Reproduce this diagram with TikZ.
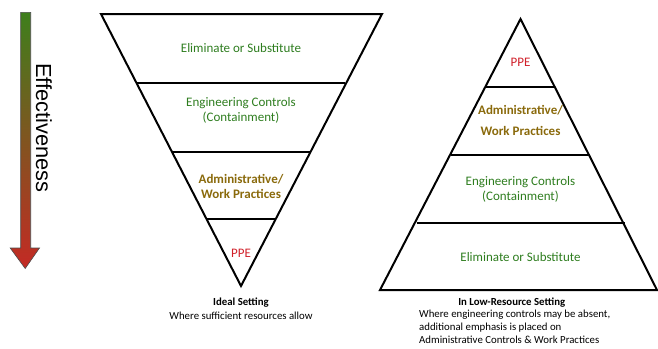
\documentclass[tikz,border=0pt]{standalone}
\usepackage{fontspec}
\setmainfont{Carlito}
\newfontfamily\arialfont{Liberation Sans}
\definecolor{tgreen}{HTML}{2E7D1F}
\definecolor{tgold}{HTML}{8A6A0C}
\definecolor{tred}{HTML}{D0202A}
\definecolor{agreen}{HTML}{3E7F1C}
\definecolor{ared}{HTML}{C42A24}
\begin{document}
\begin{tikzpicture}[x=1pt,y=-1pt,
  tri/.style={draw=black,line width=2pt,line join=miter},
  sep/.style={draw=black,line width=2pt},
  lab/.style={font=\fontsize{13}{15}\selectfont,align=center,inner sep=0pt},
  glab/.style={lab,text=tgreen},
  olab/.style={lab,text=tgold,font=\fontsize{13}{15}\selectfont\bfseries},
  rlab/.style={lab,text=tred},
  captxt/.style={font=\fontsize{10.8}{13}\selectfont,inner sep=0pt}]
\useasboundingbox (0,0) rectangle (658,348);
% effectiveness arrow
\shade[top color=agreen,bottom color=ared,draw=black!70,line width=0.6pt]
  (20.7,12.3) -- (30.7,12.3) -- (30.7,248) -- (39.5,248) -- (25.2,268.5) -- (10.2,248) -- (20.7,248) -- cycle;
\node[rotate=-90,font=\arialfont\fontsize{21.8}{24}\selectfont,inner sep=0pt] (eff) at (44,128) {Effectiveness};
% inverted triangle (ideal)
\draw[tri] (101,14) -- (382,14) -- (241,286) -- cycle;
\draw[sep] (136.7,83) -- (345.3,83);
\draw[sep] (172.5,152) -- (309.5,152);
\draw[sep] (207,219) -- (275,219);
\node[glab] (l1) at (241,48) {Eliminate or Substitute};
\node[glab] (l2) at (241,110.5) {Engineering Controls\\(Containment)};
\node[olab] (l3) at (241,186) {Administrative/\\Work Practices};
\node[rlab] (l4) at (241,253) {PPE};
\node[captxt,font=\fontsize{10.8}{13}\selectfont\bfseries] (c1) at (241,303) {Ideal Setting};
\node[captxt] (c2) at (241,315.5) {Where sufficient resources allow};
% pyramid (low resource)
\draw[tri] (380,290) -- (657,290) -- (520.5,19) -- cycle;
\draw[sep] (486,86.7) -- (555,86.7);
\draw[sep] (451,155) -- (590,155);
\draw[sep] (416.5,222.7) -- (624.5,222.7);
\node[rlab] (r1) at (520.5,62) {PPE};
\node[olab,font=\fontsize{13}{20.5}\selectfont\bfseries] (r2) at (520.5,120.5) {Administrative/\\Work Practices};
\node[glab] (r3) at (520.5,189) {Engineering Controls\\(Containment)};
\node[glab] (r4) at (520.5,256.7) {Eliminate or Substitute};
\node[captxt,font=\fontsize{10.8}{13}\selectfont\bfseries] (c3) at (511.7,303) {In Low-Resource Setting};
\node[captxt,align=left,anchor=north west] (c4) at (419,309.5) {Where engineering controls may be absent,\\additional emphasis is placed on\\Administrative Controls \& Work Practices};
\end{tikzpicture}
\end{document}
